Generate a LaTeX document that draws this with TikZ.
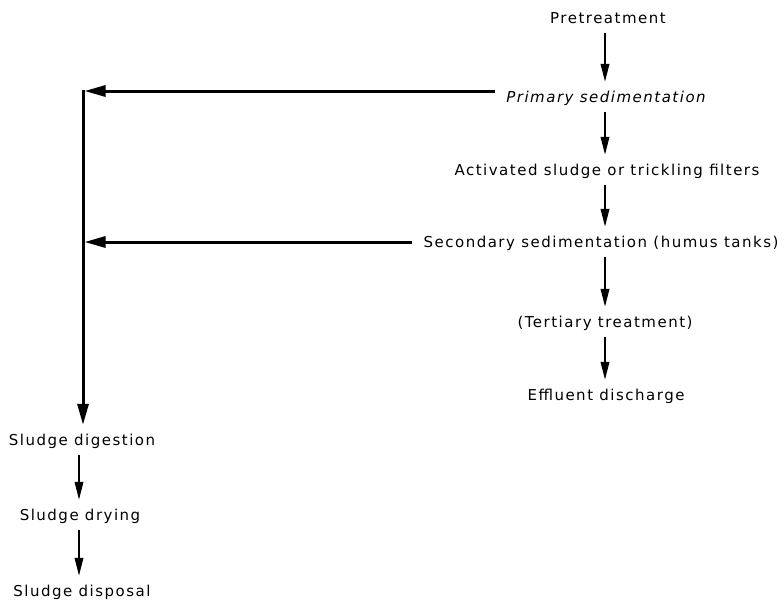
\documentclass[tikz,border=0pt]{standalone}
\usepackage{fontspec}
\setmainfont{DejaVu Sans}[LetterSpace=10]
\usetikzlibrary{arrows.meta}

\tikzset{
  stage/.style={anchor=base, inner xsep=11pt, inner ysep=10pt,
    text height=10pt, text depth=0pt,
    font=\fontsize{15pt}{17pt}\selectfont},
  flow/.style={line width=2pt, -{Triangle[length=18pt,width=8.5pt]}},
  sludgeline/.style={line width=3pt, -{Triangle[length=21pt,width=11pt]}},
}

\begin{document}
\begin{tikzpicture}[x=1pt,y=-1pt]
  \useasboundingbox (0,0) rectangle (784,600);

  % treatment stages (right column)
  \node[stage] (pre)  at (608,23)  {Pretreatment};
  \node[stage] (prim) at (606,102) {\itshape Primary sedimentation};
  \node[stage] (act)  at (607,175) {Activated sludge or trickling filters};
  \node[stage] (sec)  at (601,247) {Secondary sedimentation (humus tanks)};
  \node[stage] (ter)  at (605,327) {(Tertiary treatment)};
  \node[stage] (eff)  at (606,400) {Effluent discharge};

  % sludge handling (left column)
  \node[stage] (dig)  at (82,445) {Sludge digestion};
  \node[stage] (dry)  at (80,520) {Sludge drying};
  \node[stage] (disp) at (82,596) {Sludge disposal};

  % column lines
  \coordinate (colR) at (605,0);
  \coordinate (colL) at (79,0);
  \coordinate (top)  at (83,89.5);
  \coordinate (j1)   at (83,91);
  \coordinate (j2)   at (83,242);

  % main flow
  \draw[flow] (pre.south -| colR)  -- (prim.north -| colR);
  \draw[flow] (prim.south -| colR) -- (act.north -| colR);
  \draw[flow] (act.south -| colR)  -- (sec.north -| colR);
  \draw[flow] (sec.south -| colR)  -- (ter.north -| colR);
  \draw[flow] (ter.south -| colR)  -- (eff.north -| colR);

  % sludge collection
  \draw[sludgeline, shorten >=1.5pt] ([yshift=6pt]prim.west) -- (j1);
  \draw[sludgeline, shorten >=1.5pt] (sec.west) -- (j2);
  \draw[sludgeline] (top) -- (dig.north -| top);

  % sludge treatment
  \draw[flow] (dig.south -| colL) -- (dry.north -| colL);
  \draw[flow] (dry.south -| colL) -- (disp.north -| colL);
\end{tikzpicture}
\end{document}
